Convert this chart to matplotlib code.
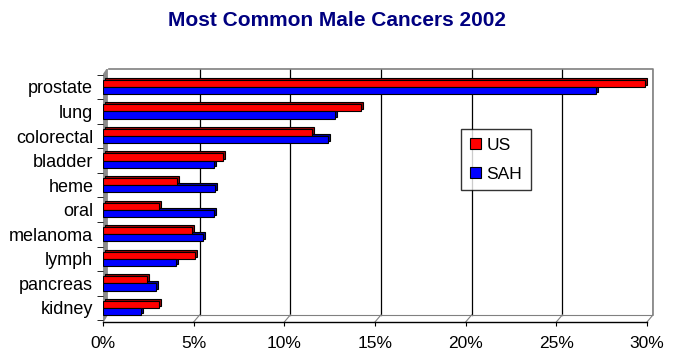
import numpy as np
import matplotlib.pyplot as plt
from matplotlib.transforms import ScaledTranslation
from matplotlib.patches import Polygon

plt.rcParams['font.family'] = ['Liberation Sans', 'DejaVu Sans']

# values (percent of male cancers)
cancers = ['prostate', 'lung', 'colorectal', 'bladder', 'heme',
           'oral', 'melanoma', 'lymph', 'pancreas', 'kidney']
us = [29.9, 14.2, 11.5, 6.6, 4.1, 3.1, 4.9, 5.1, 2.4, 3.1]
sah = [27.2, 12.8, 12.4, 6.1, 6.2, 6.1, 5.5, 4.0, 2.9, 2.1]
xticks = [0, 5, 10, 15, 20, 25, 30]

fig = plt.figure(figsize=(6.73, 3.63), dpi=100)
ax = fig.add_axes([103 / 673, 1 - 322 / 363, 550 / 673, 253 / 363])

n = len(cancers)
y = np.arange(n)
h = 0.29
dx = 0.33            # depth of the fake 3D box, in % units (~6 px)
xmax = 30 + dx
top, bottom = -0.73, n - 0.43
floor = bottom - 0.29
shift = ax.transData + ScaledTranslation(2 / 100, 2 / 100, fig.dpi_scale_trans)

# darker copy behind each bar, nudged up and right, gives the 3D look
ax.barh(y - h / 2, us, height=h, color='#990000', edgecolor='black', lw=0.8,
        transform=shift, zorder=2)
ax.barh(y + h / 2, sah, height=h, color='#000099', edgecolor='black', lw=0.8,
        transform=shift, zorder=2)
ax.barh(y - h / 2, us, height=h, color='#ff0000', edgecolor='black', lw=0.8,
        label='US', zorder=3)
ax.barh(y + h / 2, sah, height=h, color='#0000ff', edgecolor='black', lw=0.8,
        label='SAH', zorder=3)

ax.set_xlim(0, xmax)
ax.set_ylim(bottom, top)
ax.set_yticks(y)
ax.set_yticklabels(cancers, fontsize=13)
ax.set_yticks(np.arange(n + 1) - 0.5, minor=True)
ax.tick_params(axis='y', which='major', length=0, pad=7)
ax.tick_params(axis='y', which='minor', length=4)
ax.set_xticks(xticks)
ax.set_xticklabels([f'{t}%' for t in xticks], fontsize=12.5)
ax.tick_params(axis='x', length=3, pad=7)

for s in ax.spines.values():
    s.set_visible(False)

# back wall: gridlines, outline, floor
for t in xticks[1:]:
    ax.plot([t + dx, t + dx], [top, floor], color='black', lw=0.9, zorder=1)
    ax.plot([t, t + dx], [bottom, floor], color='#808080', lw=0.8, zorder=1)
ax.plot([dx, xmax, xmax], [top, top, floor], color='#808080', lw=1.2,
        zorder=1, clip_on=False)
ax.plot([dx, xmax], [floor, floor], color='#808080', lw=0.8, zorder=1)
ax.plot([0, 30], [bottom, bottom], color='black', lw=1, zorder=4,
        clip_on=False)

# grey side wall
ax.add_patch(Polygon([(0, top + 0.25), (dx * 0.7, top), (dx * 0.7, floor),
                      (0, bottom)], closed=True, color='#8c8c8c', zorder=1.5))

leg = ax.legend(loc='upper left', bbox_to_anchor=(0.651, 0.763), fontsize=12.5,
                frameon=True, fancybox=False, edgecolor='black', handlelength=0.65,
                handleheight=0.65, handletextpad=0.3, labelspacing=0.8,
                borderpad=0.5, borderaxespad=0)
leg.get_frame().set_linewidth(1)

fig.suptitle('Most Common Male Cancers 2002', x=0.5, y=0.97, fontsize=15,
             fontweight='bold', color='#000080')

fig.savefig('out.png', dpi=100)
